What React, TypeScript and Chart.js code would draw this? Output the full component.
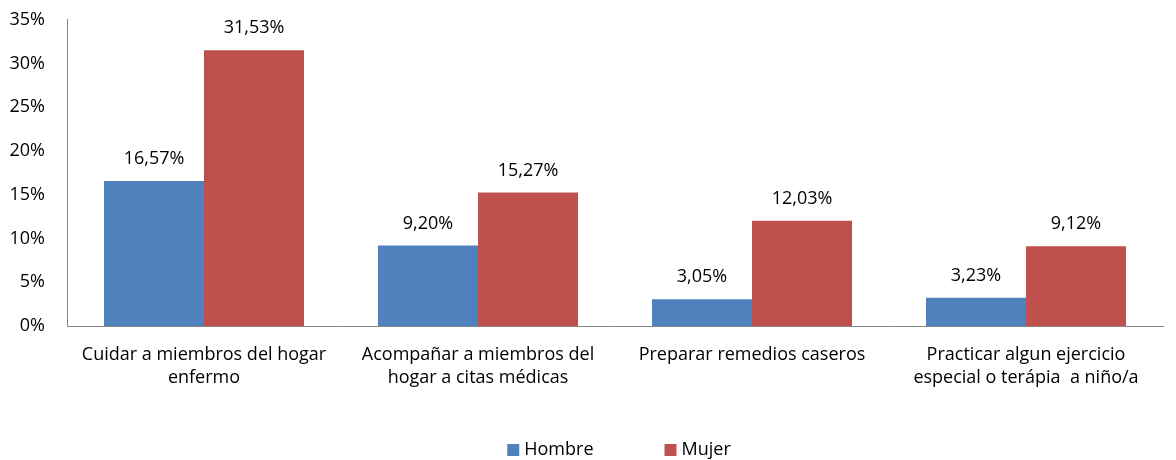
import React, { useEffect, useRef } from "react";
import { Chart, registerables } from "chart.js";

Chart.register(...registerables);

const categories: string[][] = [
  ["Cuidar a miembros del hogar", "enfermo"],
  ["Acompañar a miembros del", "hogar a citas médicas"],
  ["Preparar remedios caseros"],
  ["Practicar algun ejercicio", "especial o terápia  a niño/a"],
];
const hombre = [16.57, 9.2, 3.05, 3.23];
const mujer = [31.53, 15.27, 12.03, 9.12];
const seriesNames = ["Hombre", "Mujer"];
const colors = ["#4F81BD", "#C0504D"];

const FONT = "'Open Sans', 'Liberation Sans', sans-serif";
const FS = 18;
const SHIFT = 13;

const fmt = (v: number) => v.toFixed(2).replace(".", ",") + "%";

const labelPlugin = {
  id: "barLabels",
  afterDatasetsDraw(chart: any) {
    const ctx = chart.ctx;
    ctx.save();
    ctx.font = `${FS}px ${FONT}`;
    ctx.fillStyle = "#000";
    ctx.textAlign = "center";
    ctx.textBaseline = "middle";
    chart.data.datasets.forEach((ds: any, di: number) => {
      const meta = chart.getDatasetMeta(di);
      meta.data.forEach((el: any, i: number) => {
        ctx.fillText(fmt(ds.data[i]), el.x, el.y - 22);
      });
    });
    ctx.restore();
  },
};

const legendPlugin = {
  id: "customLegend",
  afterDraw(chart: any) {
    const ctx = chart.ctx;
    ctx.save();
    ctx.font = `${FS}px ${FONT}`;
    ctx.textBaseline = "middle";
    ctx.textAlign = "left";
    const box = 12;
    const gapText = 5;
    const gapItems = 71;
    const items = chart.data.datasets.map((ds: any) => ({
      label: ds.label,
      color: ds.backgroundColor,
      w: box + gapText + ctx.measureText(ds.label).width,
    }));
    const total = items.reduce((a: number, it: any) => a + it.w, 0) + gapItems * (items.length - 1);
    let x = 619 - total / 2;
    const y = 450 + SHIFT;
    items.forEach((it: any) => {
      ctx.fillStyle = it.color;
      ctx.fillRect(x, y - box / 2, box, box);
      ctx.fillStyle = "#000";
      ctx.fillText(it.label, x + box + gapText, y);
      x += it.w + gapItems;
    });
    ctx.restore();
  },
};

export default function App() {
  const ref = useRef<HTMLCanvasElement>(null);
  useEffect(() => {
    if (!ref.current) return;
    const chart = new Chart(ref.current, {
      type: "bar",
      data: {
        labels: categories,
        datasets: [
          { label: seriesNames[0], data: hombre, backgroundColor: colors[0] },
          { label: seriesNames[1], data: mujer, backgroundColor: colors[1] },
        ],
      },
      options: {
        animation: false,
        responsive: false,
        maintainAspectRatio: false,
        layout: { padding: { top: 4, right: 13, bottom: 0, left: 0 } },
        datasets: {
          bar: { categoryPercentage: 0.73, barPercentage: 1 },
        },
        scales: {
          x: {
            grid: { display: false, drawTicks: false },
            border: { display: true, color: "#868686", width: 1 },
            ticks: {
              color: "#000",
              font: { family: FONT, size: FS, lineHeight: 1.28 },
              padding: 17,
              maxRotation: 0,
              autoSkip: false,
            },
            afterFit: (s: any) => {
              s.height = 134;
            },
          },
          y: {
            min: 0,
            max: 35,
            grid: { display: false, drawTicks: false },
            border: { display: true, color: "#868686", width: 1 },
            ticks: {
              stepSize: 5,
              color: "#000",
              font: { family: FONT, size: FS },
              padding: 22,
              callback: (v: any) => v + "%",
            },
            afterFit: (s: any) => {
              s.width = 67;
            },
          },
        },
        plugins: {
          legend: { display: false },
          tooltip: { enabled: false },
        },
      },
      plugins: [labelPlugin, legendPlugin],
    });
    return () => chart.destroy();
  }, []);
  return (
    <div
      style={{
        position: "fixed",
        left: 0,
        top: 0,
        width: 1176,
        height: 460,
        background: "#fff",
        overflow: "hidden",
      }}
    >
      <canvas
        ref={ref}
        width={1176}
        height={460 + SHIFT}
        style={{ position: "absolute", left: 0, top: -SHIFT }}
      />
    </div>
  );
}
